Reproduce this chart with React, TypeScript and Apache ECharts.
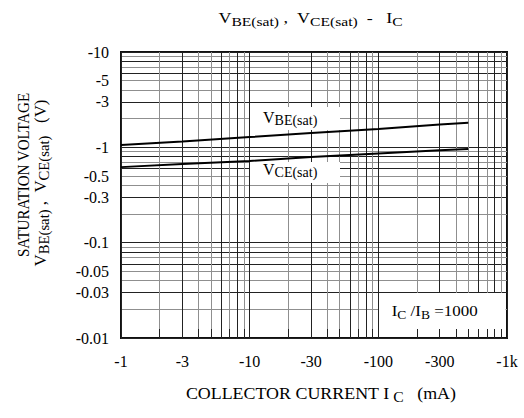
import React, { useEffect, useRef } from 'react';
import * as echarts from 'echarts';

// ---- data ----
const currentsMA = [1, 3, 10, 30, 100, 300, 500];
const vbeSat = [1.06, 1.15, 1.28, 1.41, 1.56, 1.74, 1.81];
const vceSat = [0.62, 0.67, 0.72, 0.79, 0.86, 0.93, 0.96];

const xRange = [1, 1000];
const yRange = [0.01, 10];
const xTickValues = [1, 3, 10, 30, 100, 300, 1000];
const xTickLabels = ['-1', '-3', '-10', '-30', '-100', '-300', '-1k'];
const yTickValues = [0.01, 0.03, 0.05, 0.1, 0.3, 0.5, 1, 3, 5, 10];
const yTickLabels = ['-0.01', '-0.03', '-0.05', '-0.1', '-0.3', '-0.5', '-1', '-3', '-5', '-10'];

const serif = 'Liberation Serif';
const DARK = '#222';
const GRAY = '#8f8f8f';
const mantissaColor: Record<number, string> = {
  1: DARK, 2: GRAY, 3: DARK, 4: GRAY, 5: GRAY, 6: DARK, 7: GRAY, 8: DARK, 9: GRAY,
};

const L = (v: number) => Math.log10(v);

function logGridValues(lo: number, hi: number): number[] {
  const out: number[] = [];
  for (let d = lo; d < hi * 0.999; d *= 10) {
    for (let k = 1; k <= 9; k++) out.push(k * d);
  }
  out.push(hi);
  return out;
}
function gridColors(vals: number[]): string[] {
  return vals.map((v) => {
    const e = Math.floor(L(v) + 1e-9);
    const m = Math.round(v / Math.pow(10, e));
    return mantissaColor[m] || DARK;
  });
}
function labelFor(values: number[], labels: string[]) {
  return (v: number) => {
    const i = values.findIndex((t) => Math.abs(L(t) - v) < 1e-6);
    return i >= 0 ? labels[i] : '';
  };
}
const rich = (m: number, s: number, sLH: number) => ({
  m: { fontSize: m, lineHeight: 20, fontFamily: serif, fill: '#000' },
  s: { fontSize: s, lineHeight: sLH, fontFamily: serif, fill: '#000', verticalAlign: 'bottom' },
});

export default function App() {
  const ref = useRef<HTMLDivElement>(null);
  useEffect(() => {
    document.body.style.margin = '0';
    const chart = echarts.init(ref.current!, undefined, { renderer: 'svg' });
    const xGridRaw = logGridValues(xRange[0], xRange[1]);
    const yGridRaw = logGridValues(yRange[0], yRange[1]);
    const xGrid = xGridRaw.map(L);
    const yGrid = yGridRaw.map(L);
    const xMin = L(xRange[0]);
    const xMax = L(xRange[1]);
    const yMin = L(yRange[0]);
    const yMax = L(yRange[1]);

    const option: any = {
      animation: false,
      backgroundColor: '#fff',
      textStyle: { fontFamily: serif },
      grid: {
        left: 121, right: 17, top: 52, bottom: 80,
        show: true, borderColor: '#111', borderWidth: 2, backgroundColor: 'transparent',
        containLabel: false, outerBoundsMode: 'none',
      },
      xAxis: [
        {
          type: 'value', min: xMin, max: xMax, position: 'bottom', z: 1,
          axisLine: { show: false },
          axisTick: { show: false, customValues: xGrid },
          axisLabel: { show: false },
          splitLine: { show: true, lineStyle: { color: gridColors(xGridRaw), width: 1 } },
        },
        {
          type: 'value', min: xMin, max: xMax, position: 'bottom', z: 10,
          axisLine: { show: false },
          axisTick: { show: true, inside: true, length: 9, customValues: xGrid, lineStyle: { color: DARK, width: 1 } },
          axisLabel: {
            customValues: xTickValues.map(L), formatter: labelFor(xTickValues, xTickLabels),
            margin: 15, fontSize: 16, fontFamily: serif, color: '#000',
          },
          splitLine: { show: false },
        },
      ],
      yAxis: [
        {
          type: 'value', min: yMin, max: yMax, z: 1,
          axisLine: { show: false },
          axisTick: { show: false, customValues: yGrid },
          axisLabel: {
            customValues: yTickValues.map(L), formatter: labelFor(yTickValues, yTickLabels),
            margin: 12, fontSize: 16, fontFamily: serif, color: '#000',
          },
          splitLine: { show: true, lineStyle: { color: gridColors(yGridRaw), width: 1 } },
        },
      ],
      series: [
        {
          name: 'VBE(sat)', type: 'line', xAxisIndex: 0, yAxisIndex: 0, z: 20, silent: true,
          symbol: 'none', lineStyle: { color: '#000', width: 2 },
          data: currentsMA.map((c, i) => [L(c), L(vbeSat[i])]),
        },
        {
          name: 'VCE(sat)', type: 'line', xAxisIndex: 0, yAxisIndex: 0, z: 20, silent: true,
          symbol: 'none', lineStyle: { color: '#000', width: 2 },
          data: currentsMA.map((c, i) => [L(c), L(vceSat[i])]),
        },
      ],
      graphic: [
        { type: 'rect', z: 5, silent: true, shape: { x: 250, y: 107, width: 90, height: 23 }, style: { fill: '#fff' } },
        { type: 'rect', z: 5, silent: true, shape: { x: 250, y: 162, width: 90, height: 21 }, style: { fill: '#fff' } },
        { type: 'rect', z: 5, silent: true, shape: { x: 379, y: 293, width: 126.5, height: 43.5 }, style: { fill: '#fff' } },
        {
          type: 'text', z: 30, x: 310.5, y: 17.9, scaleX: 1.2,
          style: {
            text: '{m|V}{s|BE(sat)}{m| ,  }{m|V}{s|CE(sat)}{m|  -   }{m|I}{s|C}',
            align: 'center', verticalAlign: 'middle', rich: rich(15, 13, 14),
          },
        },
        {
          type: 'text', z: 30, x: 23, y: 175, rotation: Math.PI / 2, scaleY: 1.15,
          style: {
            text: 'SATURATION VOLTAGE', fontSize: 15, fontFamily: serif, fill: '#000',
            align: 'center', verticalAlign: 'middle',
          },
        },
        {
          type: 'text', z: 30, x: 41, y: 183, rotation: Math.PI / 2, scaleX: 1.05,
          style: {
            text: '{m|V}{s|BE(sat)}{m| ,  }{m|V}{s|CE(sat)}{m|   (V)}',
            align: 'center', verticalAlign: 'middle', rich: rich(16, 14, 10),
          },
        },
        {
          type: 'text', z: 30, x: 320.8, y: 393.9, scaleX: 1.12,
          style: {
            text: '{m|COLLECTOR CURRENT I}{s| C}{m|   (mA)}',
            align: 'center', verticalAlign: 'middle', rich: rich(16, 14, 10),
          },
        },
        {
          type: 'text', z: 30, x: 263, y: 117.3,
          style: { text: '{m|V}{s|BE(sat)}', align: 'left', verticalAlign: 'middle', rich: rich(16, 14, 10) },
        },
        {
          type: 'text', z: 30, x: 263, y: 169.6,
          style: { text: '{m|V}{s|CE(sat)}', align: 'left', verticalAlign: 'middle', rich: rich(16, 14, 10) },
        },
        {
          type: 'text', z: 30, x: 391.7, y: 310.9, scaleX: 1.13,
          style: {
            text: '{m|I}{s|C}{m| /I}{s|B}{m| =1000}',
            align: 'left', verticalAlign: 'middle', rich: rich(15, 12, 12),
          },
        },
      ],
    };
    chart.setOption(option);
    return () => chart.dispose();
  }, []);
  return <div ref={ref} style={{ width: 524, height: 418 }} />;
}
